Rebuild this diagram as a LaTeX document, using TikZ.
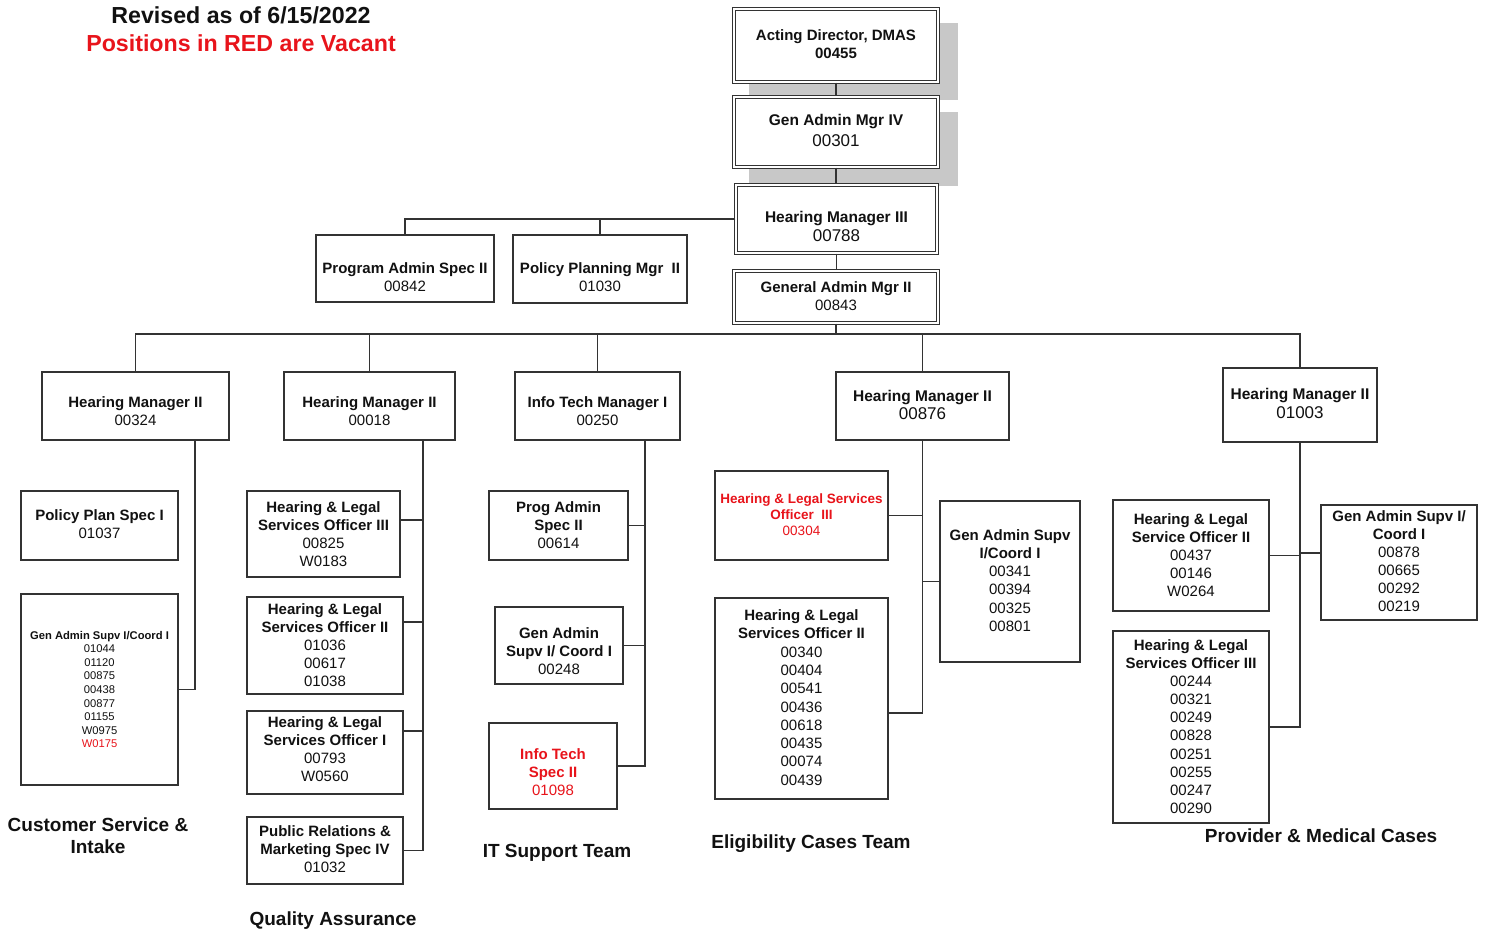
\documentclass[tikz,border=0pt]{standalone}
\usepackage{fontspec}
\setmainfont{Liberation Sans}
\usetikzlibrary{calc}
\definecolor{ln}{HTML}{333333}
\definecolor{vac}{HTML}{E8141B}
\definecolor{shd}{HTML}{C8C8C8}
\definecolor{ink}{HTML}{111111}
\tikzset{
  box/.style={draw=ln, line width=1.3pt, fill=white, rectangle, inner sep=0pt},
  dbox/.style={draw=ln, line width=1pt, double=white, double distance=1.6pt, fill=white, rectangle, inner sep=0pt},
  txt/.style={align=center, inner sep=0pt, text=ink, font=\fontsize{15}{18}\selectfont},
  conn/.style={draw=ln, line width=1.4pt},
  team/.style={align=center, inner sep=0pt, text=ink, font=\bfseries\fontsize{19}{22}\selectfont},
  shadowbox/.style={fill=shd, inner sep=0pt, rectangle}
}
% [style]{name}{x1}{y1}{x2}{y2}{text y}{text options}{text}
\newcommand\orgbox[9][box]{%
  \node[#1, minimum width={(#5)-(#3)}, minimum height={(#6)-(#4)}] (#2) at ({((#3)+(#5))/2},{((#4)+(#6))/2}) {};
  \node[txt,#8] (#2-t) at ({((#3)+(#5))/2},#7) {#9};
}
\begin{document}
\begin{tikzpicture}[x=1pt,y=-1pt]
\useasboundingbox (0,0) rectangle (1486,934);

% titles
\node[font=\bfseries\fontsize{23.2}{26}\selectfont, text=ink, inner sep=0pt] (title) at (241,15) {Revised as of 6/15/2022};
\node[font=\bfseries\fontsize{23.2}{26}\selectfont, text=vac, inner sep=0pt] (vacant) at (241,43) {Positions in RED are Vacant};

% shadows
\node[shadowbox, minimum width=209, minimum height=77] (shA) at (853.5,61.5) {};
\node[shadowbox, minimum width=209, minimum height=74] (shB) at (853.5,149) {};

% top chain
\orgbox[dbox]{dir}{733.8}{8.8}{938.2}{82.2}{44}{}{\textbf{Acting Director, DMAS}\\\textbf{00455}}
\orgbox[dbox]{gam4}{733.8}{96.8}{938.2}{167.2}{130.5}{font=\fontsize{15.5}{21}\selectfont}{\textbf{Gen Admin Mgr IV}\\{\fontsize{17}{21}\selectfont 00301}}
\orgbox[dbox]{hm3}{735.8}{184.8}{937.2}{253.2}{226.5}{font=\fontsize{15.5}{19}\selectfont}{\textbf{Hearing Manager III}\\{\fontsize{17}{19}\selectfont 00788}}
\orgbox[dbox]{gam2}{733.8}{270.8}{938.2}{323.2}{296.5}{}{\textbf{General Admin Mgr II}\\00843}
\orgbox{pas}{316}{235}{494}{302}{277}{}{\textbf{Program Admin Spec II}\\00842}
\orgbox{ppm}{513}{235}{687}{303}{277}{}{\textbf{Policy Planning Mgr\ \ II}\\01030}

% managers
\orgbox{hmA}{42}{372}{229}{440}{411}{}{\textbf{Hearing Manager II}\\00324}
\orgbox{hmB}{284}{372}{455}{440}{411}{}{\textbf{Hearing Manager II}\\00018}
\orgbox{itm}{515}{372}{680}{440}{411}{}{\textbf{Info Tech Manager I}\\00250}
\orgbox{hmC}{836}{372}{1009}{440}{405}{font=\fontsize{15.5}{18}\selectfont}{\textbf{Hearing Manager II}\\{\fontsize{17}{18}\selectfont 00876}}
\orgbox{hmD}{1223}{368}{1377}{442}{403.5}{font=\fontsize{15.5}{19}\selectfont}{\textbf{Hearing Manager II}\\{\fontsize{17}{19}\selectfont 01003}}

% column 1
\orgbox{pps}{21}{491}{178}{560}{524.5}{}{\textbf{Policy Plan Spec I}\\01037}
\orgbox{gscA}{21}{594}{178}{785}{689.5}{font=\fontsize{11.2}{13.6}\selectfont}{\textbf{Gen Admin Supv I/Coord I}\\01044\\01120\\00875\\00438\\00877\\01155\\W0975\\\textcolor{vac}{W0175}}

% column 2
\orgbox{hloA3}{247}{491}{400}{577}{534}{}{\textbf{Hearing \& Legal}\\\textbf{Services Officer III}\\00825\\W0183}
\orgbox{hloA2}{247}{597}{403}{694}{645}{}{\textbf{Hearing \& Legal}\\\textbf{Services Officer II}\\01036\\00617\\01038}
\orgbox{hloA1}{247}{711}{403}{794}{749.5}{}{\textbf{Hearing \& Legal}\\\textbf{Services Officer I}\\00793\\W0560}
\orgbox{prm}{247}{817}{403}{884}{849.5}{}{\textbf{Public Relations \&}\\\textbf{Marketing Spec IV}\\01032}

% column 3
\orgbox{pas2}{489}{491}{628}{560}{525}{}{\textbf{Prog Admin}\\\textbf{Spec II}\\00614}
\orgbox{gscB}{495}{607}{623}{684}{651}{}{\textbf{Gen Admin}\\\textbf{Supv I/ Coord I}\\00248}
\orgbox{its}{489}{723}{617}{809}{772}{text=vac}{\textbf{Info Tech}\\\textbf{Spec II}\\01098}

% column 4
\orgbox{hloC3}{715}{471}{888}{560}{515}{text=vac,font=\fontsize{13.5}{16}\selectfont}{\textbf{Hearing \& Legal Services}\\\textbf{Officer\ \ III}\\00304}
\orgbox{gscC}{940}{501}{1080}{662}{580.5}{font=\fontsize{15}{18.2}\selectfont}{\textbf{Gen Admin Supv}\\\textbf{I/Coord I}\\00341\\00394\\00325\\00801}
\orgbox{hloC2}{715}{598}{888}{799}{697.5}{font=\fontsize{15}{18.3}\selectfont}{\textbf{Hearing \& Legal}\\\textbf{Services Officer II}\\00340\\00404\\00541\\00436\\00618\\00435\\00074\\00439}

% column 5
\orgbox{hloD2}{1113}{500}{1269}{611}{555}{}{\textbf{Hearing \& Legal}\\\textbf{Service Officer II}\\00437\\00146\\W0264}
\orgbox{gscD}{1321}{505}{1477}{620}{561.5}{}{\textbf{Gen Admin Supv I/}\\\textbf{Coord I}\\00878\\00665\\00292\\00219}
\orgbox{hloD3}{1113}{631}{1269}{823}{726.5}{font=\fontsize{15}{18.1}\selectfont}{\textbf{Hearing \& Legal}\\\textbf{Services Officer III}\\00244\\00321\\00249\\00828\\00251\\00255\\00247\\00290}

% connectors: top
\draw[conn] (dir.south) -- (gam4.north);
\draw[conn] (gam4.south) -- (gam4.south |- hm3.north);
\draw[conn] (hm3.south) -- (hm3.south |- gam2.north);
\draw[conn] (hm3.west) -| (pas.north);
\draw[conn] (ppm.north) -- (ppm.north |- hm3.west);

% bus
\coordinate (bus) at (836,334);
\draw[conn] (gam2.south) -- (gam2.south |- bus);
\draw[conn] (hmA.north) -- (hmA.north |- bus) -- (hmD.north |- bus) -- (hmD.north);
\foreach \n in {hmB,itm,hmC} \draw[conn] (\n.north) -- (\n.north |- bus);

% column 1
\coordinate (sA) at (195,440);
\draw[conn] (sA) |- (gscA.east);

% column 2
\coordinate (sB) at (423,440);
\draw[conn] (sB) |- (prm.east);
\draw[conn] ([yshift=14pt]hloA3.east) -| (sB);
\draw[conn] ([yshift=23.5pt]hloA2.east) -| (sB);
\draw[conn] ([yshift=21.5pt]hloA1.east) -| (sB);

% column 3
\coordinate (sC) at (645,440);
\draw[conn] (sC) |- (its.east);
\draw[conn] (pas2.east) -| (sC);
\draw[conn] (gscB.east) -| (sC);

% column 4
\draw[conn] (hmC.south) |- ([yshift=-14.5pt]hloC2.east);
\draw[conn] (hloC3.east) -| (hmC.south);
\draw[conn] (gscC.west) -| (hmC.south);

% column 5
\draw[conn] (hmD.south) |- (hloD3.east);
\draw[conn] (hloD2.east) -| (hmD.south);
\draw[conn] ([yshift=9.5pt]gscD.west) -| (hmD.south);

% team labels
\node[team] (csi) at (98,836) {Customer Service \&\\Intake};
\node[team] (qa) at (333,921) {Quality Assurance};
\node[team] (itst) at (557,853) {IT Support Team};
\node[team] (ect) at (811,844) {Eligibility Cases Team};
\node[team] (pmc) at (1321,836) {Provider \& Medical Cases};
\end{tikzpicture}
\end{document}
